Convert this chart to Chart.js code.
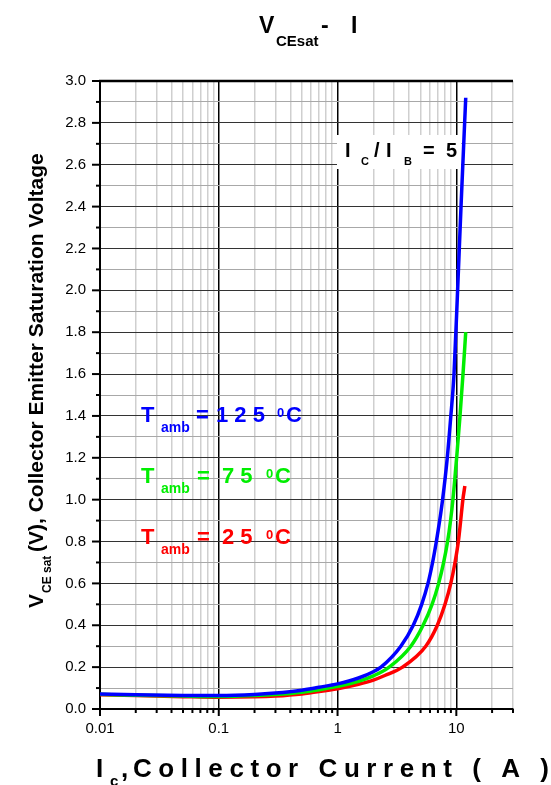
<!DOCTYPE html>
<html><head><meta charset="utf-8">
<script src="https://cdn.jsdelivr.net/npm/chart.js@4.4.0/dist/chart.umd.min.js"></script>
<style>html,body{margin:0;padding:0;background:#fff}canvas{display:block}</style>
</head><body>
<canvas id="c" width="551" height="785"></canvas>
<script>
const FONT = '"Liberation Sans", Arial, Helvetica, sans-serif';

// ---- data ----
const current125 = [0.01,0.02,0.05,0.1,0.2,0.3,0.5,0.7,1,1.5,2,2.32,3.41,4.34,5.11,5.77,6.31,6.79,7.24,7.66,8.39,8.99,9.56,10.25,10.95,12.0];
const vce125     = [0.072,0.068,0.065,0.064,0.069,0.076,0.090,0.104,0.120,0.148,0.178,0.2,0.3,0.4,0.5,0.6,0.7,0.8,0.9,1.0,1.2,1.4,1.6,2.0,2.4,2.92];
const current75  = [0.01,0.02,0.05,0.1,0.2,0.3,0.5,0.7,1,1.5,2,2.72,4.14,5.25,6.25,7.10,7.82,8.44,8.94,9.36,10.06,10.74,11.38,12.0];
const vce75      = [0.070,0.066,0.062,0.060,0.064,0.069,0.080,0.092,0.108,0.132,0.158,0.2,0.3,0.4,0.5,0.6,0.7,0.8,0.9,1.0,1.2,1.4,1.6,1.8];
const current25  = [0.01,0.02,0.05,0.1,0.2,0.3,0.5,0.7,1,1.5,2,2.5,3.52,5.53,6.92,8.03,8.98,9.75,10.4,10.88,11.35,11.8];
const vce25      = [0.068,0.064,0.059,0.056,0.058,0.062,0.072,0.083,0.097,0.118,0.138,0.160,0.2,0.3,0.4,0.5,0.6,0.7,0.8,0.9,1.0,1.065];
const xDecades    = [0.01,0.1,1,10];
const xTickLabels = ['0.01','0.1','1','10'];
const yTickLabels = ['0.0','0.2','0.4','0.6','0.8','1.0','1.2','1.4','1.6','1.8','2.0','2.2','2.4','2.6','2.8','3.0'];
const X_MIN = 0.01, X_MAX = 30, Y_MIN = 0, Y_MAX = 3.0, Y_STEP = 0.1;

const BLUE = '#0000ff', GREEN = '#00ee00', RED = '#ff0000';

function pts(xs, ys){ return xs.map((x,i)=>({x:x, y:ys[i]})); }
function isDecade(v){ const l = Math.log10(v); return Math.abs(l - Math.round(l)) < 1e-9; }

function txt(ctx, s, x, y, size, color, bold, align){
  ctx.font = (bold===false?'':'bold ') + size + 'px ' + FONT;
  ctx.fillStyle = color;
  ctx.textAlign = align || 'left';
  ctx.textBaseline = 'alphabetic';
  ctx.fillText(s, x, y);
}

const decor = {
  id: 'decor',
  beforeDatasetsDraw(chart){
    const ctx = chart.ctx;
    ctx.save();
    // I_C / I_B = 5 box
    ctx.fillStyle = '#fff';
    ctx.fillRect(337, 135, 124, 34);
    txt(ctx, 'I', 345, 157, 20, '#000');
    txt(ctx, 'C', 361, 165, 11, '#000');
    txt(ctx, '/', 374, 157, 20, '#000');
    txt(ctx, 'I', 386, 157, 20, '#000');
    txt(ctx, 'B', 404, 165, 11, '#000');
    txt(ctx, '=', 423, 157, 20, '#000');
    txt(ctx, '5', 446, 157, 20, '#000');

    // Temperature labels
    const rows = [
      {c: BLUE,  y: 422, eqX: 196, num: '1 2 5', numX: 216, supX: 277, cX: 286},
      {c: GREEN, y: 483, eqX: 197, num: '7 5',   numX: 222, supX: 266, cX: 275},
      {c: RED,   y: 544, eqX: 197, num: '2 5',   numX: 222, supX: 266, cX: 275}
    ];
    rows.forEach(r=>{
      txt(ctx, 'T', 141, r.y, 22, r.c);
      txt(ctx, 'amb', 161, r.y + 10, 14, r.c);
      txt(ctx, '=', r.eqX, r.y, 22, r.c);
      txt(ctx, r.num, r.numX, r.y, 22, r.c);
      txt(ctx, '0', r.supX, r.y - 5, 13, r.c);
      txt(ctx, 'C', r.cX, r.y, 22, r.c);
    });
    ctx.restore();
  },
  afterDraw(chart){
    const ctx = chart.ctx;
    const a = chart.chartArea;
    const xs = chart.scales.x, ys = chart.scales.y;
    ctx.save();
    // top frame line
    ctx.strokeStyle = '#000';
    ctx.lineWidth = 2.5;
    ctx.beginPath(); ctx.moveTo(a.left - 1, a.top); ctx.lineTo(a.right, a.top); ctx.stroke();
    // tick marks
    ctx.lineWidth = 2;
    ys.ticks.forEach((t,i)=>{
      const y = ys.getPixelForValue(t.value);
      const len = (i % 2 === 0) ? 8 : 4;
      ctx.beginPath(); ctx.moveTo(a.left - len, y); ctx.lineTo(a.left, y); ctx.stroke();
    });
    xs.ticks.forEach(t=>{
      const x = xs.getPixelForValue(t.value);
      const len = isDecade(t.value) ? 7 : 4;
      ctx.beginPath(); ctx.moveTo(x, a.bottom); ctx.lineTo(x, a.bottom + len); ctx.stroke();
    });

    // chart title: V_CEsat - I
    txt(ctx, 'V', 259, 33, 23, '#000');
    txt(ctx, 'CEsat', 276, 46, 15, '#000');
    txt(ctx, '-', 321, 33, 23, '#000');
    txt(ctx, 'I', 351, 33, 23, '#000');

    // x-axis title
    txt(ctx, 'I', 96, 777, 26, '#000');
    txt(ctx, 'c', 110, 786, 15, '#000');
    txt(ctx, ',', 121, 777, 26, '#000');
    const xt = 'Collector Current ( A )';
    ctx.font = 'bold 26px ' + FONT;
    let natural = 0; for (const ch of xt) natural += ctx.measureText(ch).width;
    const startX = 133, endX = 549;
    const gap = (endX - startX - natural) / (xt.length - 1);
    let px = startX;
    for (const ch of xt){ ctx.fillText(ch, px, 777); px += ctx.measureText(ch).width + gap; }

    // y-axis title (rotated)
    ctx.translate(43, 608);
    ctx.rotate(-Math.PI/2);
    txt(ctx, 'V', 0, 0, 21, '#000');
    txt(ctx, 'CE sat', 15, 8, 12, '#000');
    txt(ctx, '(V), Collector Emitter Saturation Voltage', 56, 0, 21, '#000');
    ctx.restore();
  }
};

new Chart(document.getElementById('c'), {
  type: 'line',
  data: {
    datasets: [
      {label: 'Tamb = 125 °C', data: pts(current125, vce125), borderColor: BLUE},
      {label: 'Tamb = 75 °C',  data: pts(current75,  vce75),  borderColor: GREEN},
      {label: 'Tamb = 25 °C',  data: pts(current25,  vce25),  borderColor: RED}
    ].map(d=>Object.assign(d, {borderWidth: 3.5, pointRadius: 0, fill: false, cubicInterpolationMode: 'monotone'}))
  },
  options: {
    responsive: false,
    animation: false,
    devicePixelRatio: 1,
    layout: {padding: {top: 81, right: 38, left: 0, bottom: 0}},
    plugins: {legend: {display: false}, tooltip: {enabled: false}, title: {display: false}},
    scales: {
      x: {
        type: 'logarithmic', min: X_MIN, max: X_MAX,
        afterBuildTicks(scale){
          const t = [];
          xDecades.forEach(d=>{ for (let m=1; m<=9; m++){ const v = d*m; if (v <= X_MAX*1.0001) t.push({value: v}); } });
          scale.ticks = t;
        },
        afterFit(scale){ scale.height = 76; },
        ticks: {
          autoSkip: false, maxRotation: 0, minRotation: 0, padding: 11,
          color: '#000', font: {family: FONT, size: 15},
          callback(v){ const i = xDecades.findIndex(d=>Math.abs(d - v) < 1e-9); return i >= 0 ? xTickLabels[i] : ''; }
        },
        grid: {
          drawTicks: false,
          color: c => (c.tick && isDecade(c.tick.value)) ? '#000' : '#cfcfcf',
          lineWidth: 1.5
        },
        border: {display: true, color: '#000', width: 2}
      },
      y: {
        type: 'linear', min: Y_MIN, max: Y_MAX,
        afterFit(scale){ scale.width = 100; },
        ticks: {
          stepSize: Y_STEP, autoSkip: false, padding: 14,
          color: '#000', font: {family: FONT, size: 15},
          callback(v, i){ return i % 2 === 0 ? yTickLabels[i/2] : ''; }
        },
        grid: {
          drawTicks: false,
          color: c => (c.index % 2 === 0) ? '#333' : '#a8a8a8',
          lineWidth: 1
        },
        border: {display: true, color: '#000', width: 2}
      }
    }
  },
  plugins: [decor]
});
</script>
</body></html>
